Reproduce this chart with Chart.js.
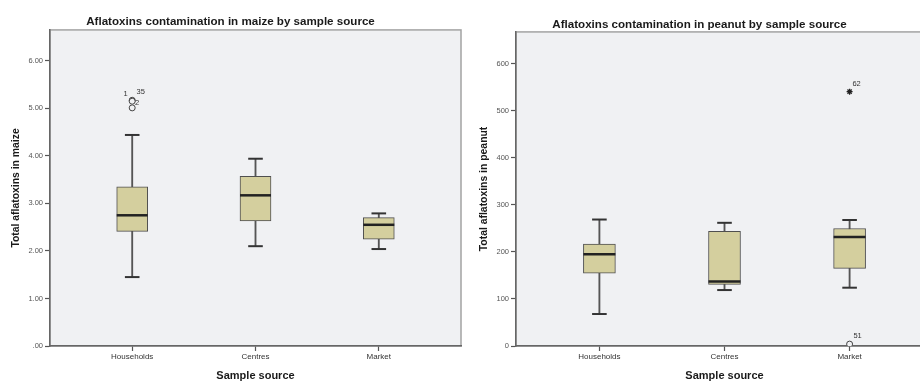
<!DOCTYPE html>
<html>
<head>
<meta charset="utf-8">
<script src="https://cdn.jsdelivr.net/npm/chart.js@4/dist/chart.umd.min.js"></script>
<style>
  html, body { margin: 0; padding: 0; background: #ffffff; overflow: hidden; width: 920px; height: 381px; }
  .panel { position: absolute; top: 0; }
  #leftWrap { left: 0; width: 462px; height: 381px; }
  #rightWrap { left: 466px; width: 468px; height: 381px; }
</style>
</head>
<body>
<div id="leftWrap" class="panel"><canvas id="maize" width="462" height="381"></canvas></div>
<div id="rightWrap" class="panel"><canvas id="peanut" width="468" height="381"></canvas></div>
<script>
// ---------- data ----------
const categories = ['Households', 'Centres', 'Market'];

const maizeLow    = [1.45, 2.10, 2.04];
const maizeQ1     = [2.41, 2.63, 2.25];
const maizeMedian = [2.75, 3.17, 2.55];
const maizeQ3     = [3.35, 3.57, 2.70];
const maizeHigh   = [4.44, 3.94, 2.79];
const maizeOutlierCat    = [0, 0, 0];
const maizeOutlierValues = [5.17, 5.15, 5.01];
const maizeOutlierIds    = ['1', '35', '2'];
const maizeTicks      = [0, 1, 2, 3, 4, 5, 6];
const maizeTickLabels = ['.00', '1.00', '2.00', '3.00', '4.00', '5.00', '6.00'];

const peanutLow    = [68, 119, 124];
const peanutQ1     = [155, 131, 165];
const peanutMedian = [195, 137, 232];
const peanutQ3     = [217, 244, 250];
const peanutHigh   = [269, 262, 268];
const peanutOutlierCat    = [2];
const peanutOutlierValues = [4];
const peanutOutlierIds    = ['51'];
const peanutExtremeCat    = [2];
const peanutExtremeValues = [541];
const peanutExtremeIds    = ['62'];
const peanutTicks      = [0, 100, 200, 300, 400, 500, 600];
const peanutTickLabels = ['0', '100', '200', '300', '400', '500', '600'];

// ---------- styling ----------
const FONT = "'Liberation Sans', Arial, sans-serif";
const PLOT_BG = '#f0f1f3';
const BOX_FILL = '#d4cf9e';

const plotFrame = {
  id: 'plotFrame',
  beforeDraw(chart) {
    const {ctx, chartArea: a} = chart;
    ctx.save();
    ctx.fillStyle = PLOT_BG;
    ctx.fillRect(a.left, a.top, a.right - a.left, a.bottom - a.top);
    ctx.strokeStyle = '#a3a3a3';
    ctx.lineWidth = 1.5;
    ctx.strokeRect(a.left, a.top, a.right - a.left, a.bottom - a.top);
    ctx.restore();
  }
};

const idLabels = {
  id: 'idLabels',
  afterDatasetsDraw(chart, args, opts) {
    const {ctx} = chart;
    ctx.save();
    ctx.font = '7.5px ' + FONT;
    ctx.fillStyle = '#333';
    ctx.textAlign = 'center';
    ctx.textBaseline = 'middle';
    (opts.groups || []).forEach(g => {
      const meta = chart.getDatasetMeta(g.dataset);
      meta.data.forEach((pt, i) => {
        const off = g.offsets[i] || [6, -6];
        ctx.fillText(g.ids[i], pt.x + off[0], pt.y + off[1]);
      });
    });
    ctx.restore();
  }
};

function makeChart(id, d) {
  const idx = categories.map((c, i) => i);
  const datasets = [
    { // whiskers
      type: 'bar', order: 5, grouped: false,
      data: idx.map(i => ({x: i, y: [d.low[i], d.high[i]]})),
      barThickness: 1.2, backgroundColor: '#555', borderWidth: 0
    },
    { // boxes
      type: 'bar', order: 4, grouped: false,
      data: idx.map(i => ({x: i, y: [d.q1[i], d.q3[i]]})),
      barThickness: d.boxWidth, backgroundColor: BOX_FILL,
      borderColor: '#4f4f4f', borderWidth: 1, borderSkipped: false
    },
    { // caps
      type: 'scatter', order: 3,
      data: idx.map(i => ({x: i, y: d.low[i]})).concat(idx.map(i => ({x: i, y: d.high[i]}))),
      pointStyle: 'line', pointRadius: 7.3, pointBorderColor: '#333', pointBorderWidth: 2
    },
    { // medians
      type: 'scatter', order: 2,
      data: idx.map(i => ({x: i, y: d.median[i]})),
      pointStyle: 'line', pointRadius: d.boxWidth / 2, pointBorderColor: '#222', pointBorderWidth: 2.5
    },
    { // outliers
      type: 'scatter', order: 1,
      data: d.outCat.map((c, k) => ({x: c, y: d.outVal[k]})),
      pointStyle: 'circle', pointRadius: 3, pointBackgroundColor: PLOT_BG,
      pointBorderColor: '#444', pointBorderWidth: 1
    }
  ];
  const groups = [{dataset: 4, ids: d.outIds, offsets: d.outOffsets}];
  if (d.extCat) {
    datasets.push({
      type: 'scatter', order: 0,
      data: d.extCat.map((c, k) => ({x: c, y: d.extVal[k]})),
      pointStyle: 'star', pointRadius: 3, pointBorderColor: '#222', pointBorderWidth: 1.3
    });
    groups.push({dataset: 5, ids: d.extIds, offsets: d.extOffsets});
  }
  return new Chart(document.getElementById(id), {
    type: 'bar',
    data: { datasets },
    plugins: [plotFrame, idLabels],
    options: {
      responsive: false,
      animation: false,
      events: [],
      layout: { autoPadding: false, padding: { left: 0, right: 1, top: 0, bottom: 0 } },
      plugins: {
        legend: { display: false },
        tooltip: { enabled: false },
        title: {
          display: true, text: d.title, color: '#1a1a1a',
          font: { family: FONT, size: 11.6, weight: 'bold' },
          padding: { top: d.titleTop, bottom: d.titleBottom }
        },
        idLabels: { groups }
      },
      scales: {
        x: {
          type: 'linear', min: -2 / 3, max: 8 / 3, offset: false,
          afterBuildTicks: s => { s.ticks = idx.map(v => ({value: v})); },
          afterFit: s => { s.height = 35; },
          ticks: {
            callback: v => categories[v], color: '#333', padding: 1,
            font: { family: FONT, size: 8 }, maxRotation: 0, autoSkip: false
          },
          grid: { display: true, offset: false, drawOnChartArea: false, drawTicks: true, tickLength: 5, color: '#555', tickWidth: 1.2 },
          border: { display: true, color: '#666', width: 1.5 },
          title: {
            display: true, text: 'Sample source', color: '#1a1a1a',
            font: { family: FONT, size: 11, weight: 'bold' }, padding: { top: 0, bottom: -2 }
          }
        },
        y: {
          type: 'linear', min: 0, max: d.yMax,
          afterBuildTicks: s => { s.ticks = d.ticks.map(v => ({value: v})); },
          afterFit: s => { s.width = 50; },
          ticks: {
            callback: v => d.tickLabels[d.ticks.indexOf(v)], color: '#555', padding: 2,
            font: { family: FONT, size: 7.5 }
          },
          grid: { display: true, drawOnChartArea: false, drawTicks: true, tickLength: 5, color: '#555', tickWidth: 1.2 },
          border: { display: true, color: '#666', width: 1.5 },
          title: {
            display: true, text: d.yTitle, color: '#1a1a1a',
            font: { family: FONT, size: 10.4, weight: 'bold' }, padding: { top: d.yTitlePad, bottom: 0 }
          }
        }
      }
    }
  });
}

makeChart('maize', {
  title: 'Aflatoxins contamination in maize by sample source',
  yTitle: 'Total aflatoxins in maize',
  titleTop: 14.5, titleBottom: 1.5, yTitlePad: 9.5, yMax: 6.65, boxWidth: 31,
  low: maizeLow, q1: maizeQ1, median: maizeMedian, q3: maizeQ3, high: maizeHigh,
  outCat: maizeOutlierCat, outVal: maizeOutlierValues, outIds: maizeOutlierIds,
  outOffsets: [[-6.5, -6.5], [8.5, -9.5], [5, -4.5]],
  ticks: maizeTicks, tickLabels: maizeTickLabels
});

makeChart('peanut', {
  title: 'Aflatoxins contamination in peanut by sample source',
  yTitle: 'Total aflatoxins in peanut',
  titleTop: 17.5, titleBottom: 0.5, yTitlePad: 11.8, yMax: 668, boxWidth: 32,
  low: peanutLow, q1: peanutQ1, median: peanutMedian, q3: peanutQ3, high: peanutHigh,
  outCat: peanutOutlierCat, outVal: peanutOutlierValues, outIds: peanutOutlierIds,
  outOffsets: [[8, -8]],
  extCat: peanutExtremeCat, extVal: peanutExtremeValues, extIds: peanutExtremeIds,
  extOffsets: [[7, -7.5]],
  ticks: peanutTicks, tickLabels: peanutTickLabels
});
</script>
</body>
</html>
